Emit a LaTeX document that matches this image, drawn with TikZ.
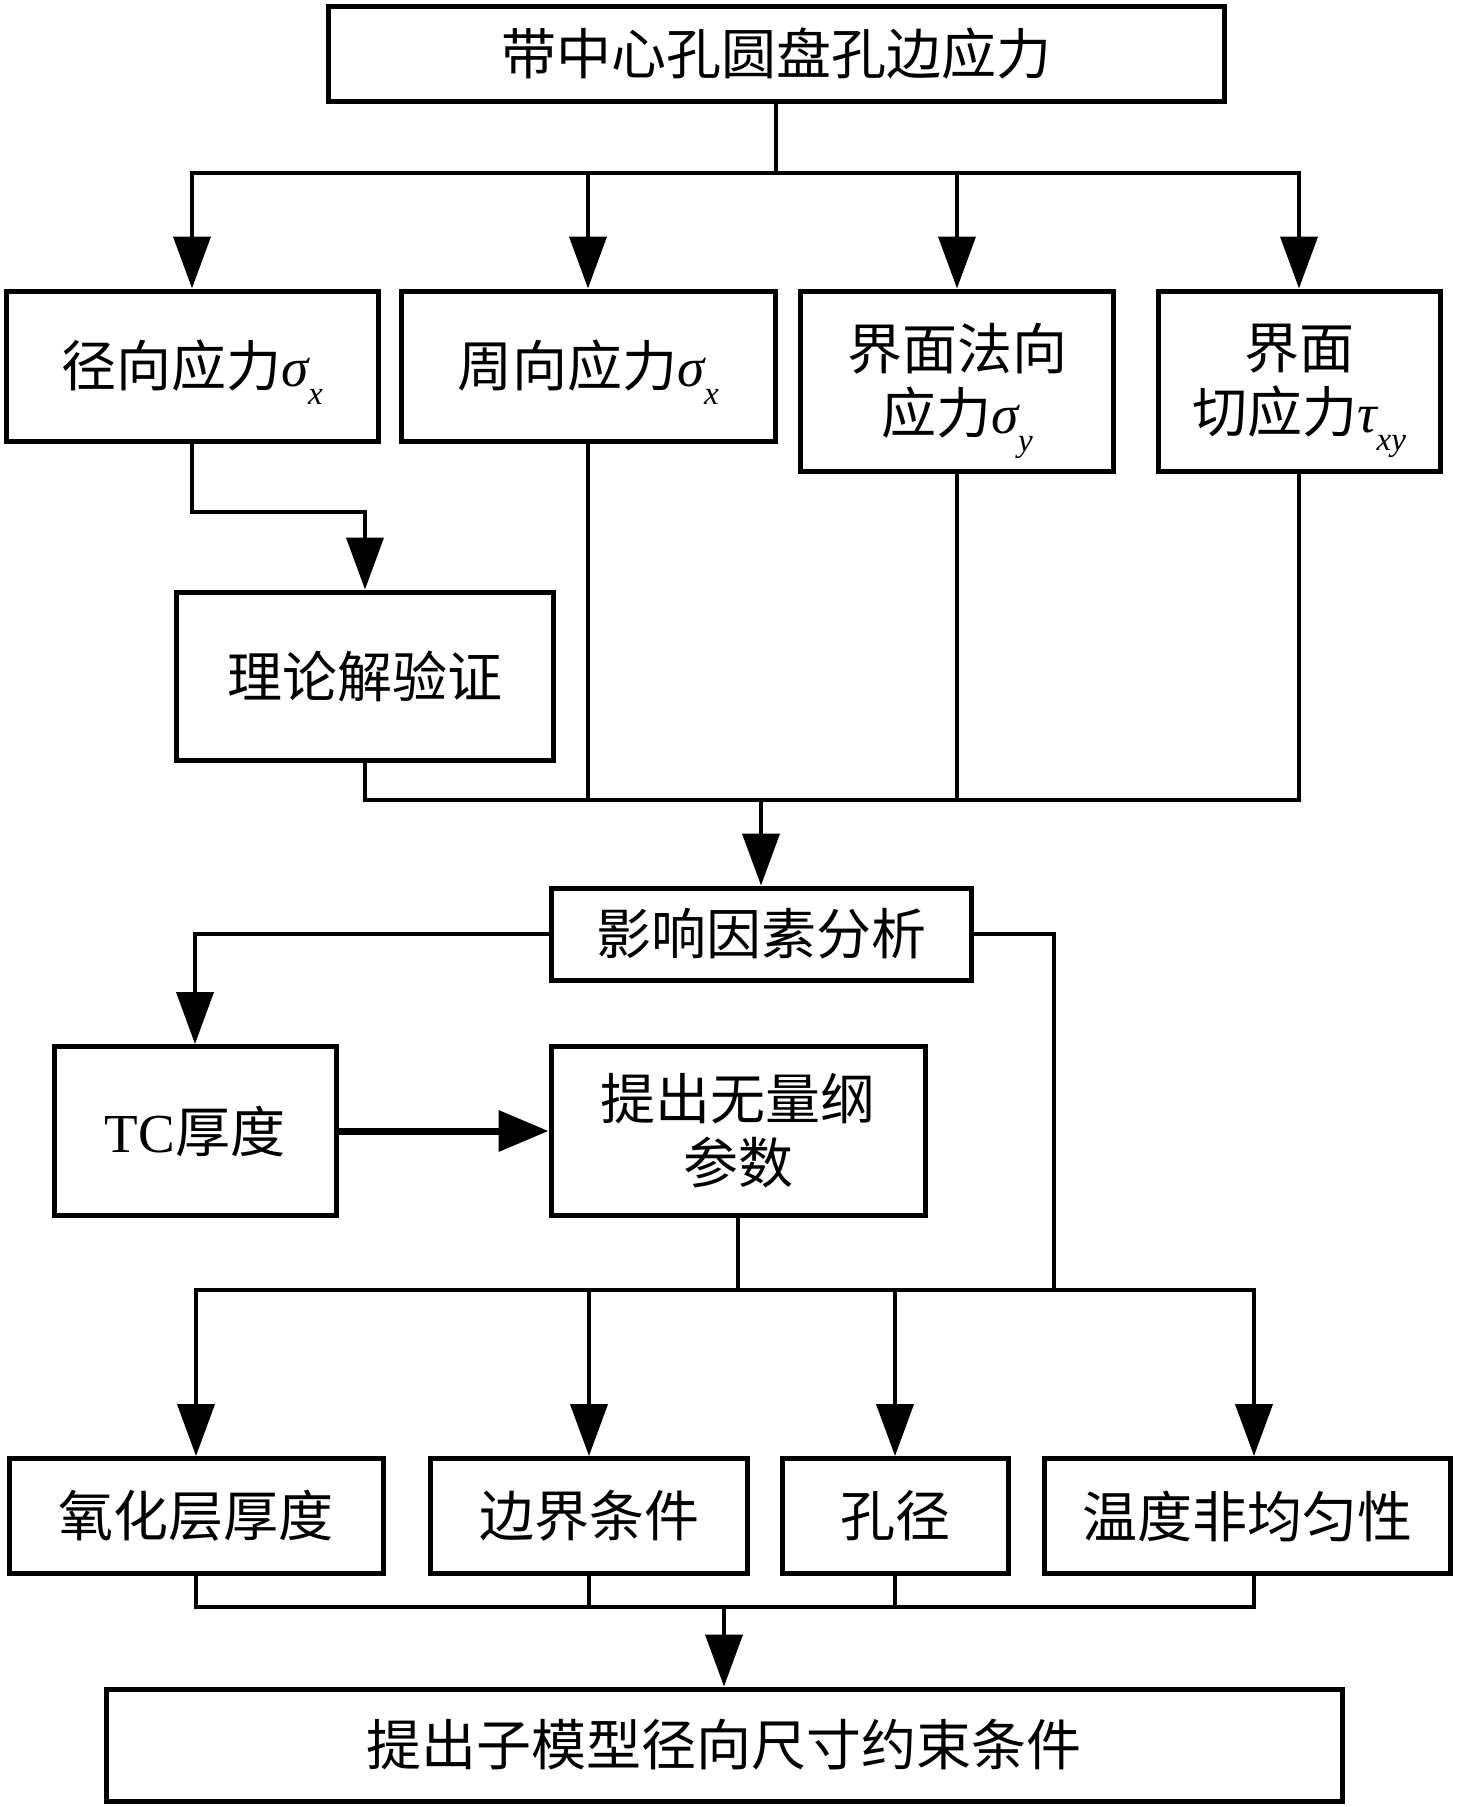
\documentclass[tikz,border=0pt]{standalone}
\usepackage{fontspec}
\usetikzlibrary{arrows.meta}
\newfontfamily\cjk{Noto Sans CJK SC}
\newfontfamily\tnr{Liberation Serif}
\newcommand\gsym[2]{{\tnr\itshape #1}\raisebox{-0.32em}[0pt][0pt]{\tnr\itshape\fontsize{33}{33}\selectfont #2}}
\begin{document}
\begin{tikzpicture}[x=1pt,y=-1pt,
  box/.style={draw=black, line width=5pt, fill=white, align=center, inner sep=0pt,
              font=\cjk\fontsize{55}{64}\selectfont},
  wire/.style={line width=4pt},
  arr/.style={wire, -{Triangle[length=52pt,width=37pt]}}]
\fill[white] (0,0) rectangle (1476,1807);
\useasboundingbox (0,0) rectangle (1476,1807);

\node[box, minimum width=896pt, minimum height=95pt] (top) at (776,54) {带中心孔圆盘孔边应力};

\node[box, minimum width=372pt, minimum height=150pt] (A) at (192,366) {径向应力\gsym{σ}{x}};
\node[box, minimum width=374pt, minimum height=150pt] (B) at (588,366) {周向应力\gsym{σ}{x}};
\node[box, minimum width=313pt, minimum height=180pt] (C) at (957,381) {界面法向\\应力\gsym{σ}{y}};
\node[box, minimum width=282pt, minimum height=180pt] (D) at (1299,381) {界面\\切应力\gsym{τ}{xy}};

\node[box, minimum width=377pt, minimum height=168pt] (L) at (365,676) {理论解验证};
\node[box, minimum width=420pt, minimum height=92pt] (M) at (761,934) {影响因素分析};

\node[box, minimum width=282pt, minimum height=169pt] (TC) at (195,1131) {{\tnr TC}厚度};
\node[box, minimum width=374pt, minimum height=169pt] (P) at (738,1131) {提出无量纲\\参数};

\node[box, minimum width=374pt, minimum height=115pt] (E) at (196,1516) {氧化层厚度};
\node[box, minimum width=317pt, minimum height=115pt] (F) at (589,1516) {边界条件};
\node[box, minimum width=226pt, minimum height=115pt] (G) at (895,1516) {孔径};
\node[box, minimum width=406pt, minimum height=115pt] (H) at (1247,1516) {温度非均匀性};

\node[box, minimum width=1236pt, minimum height=112pt] (Z) at (724,1745) {提出子模型径向尺寸约束条件};

% top fan-out
\coordinate (b1) at (776,173);
\draw[arr] (top.south) -- (b1) -| (A.north);
\draw[arr] (b1) -| (D.north);
\draw[arr] (B.north |- b1) -- (B.north);
\draw[arr] (C.north |- b1) -- (C.north);

% radial -> theory
\draw[arr] (A.south) -- ++(0,68) -| (L.north);

% merge into analysis
\coordinate (m1) at (761,800);
\draw[wire] (L.south) |- (m1) -| (D.south);
\draw[wire] (B.south) -- (B.south |- m1);
\draw[wire] (C.south) -- (C.south |- m1);
\draw[arr] (m1) -- (M.north);

% analysis branches
\draw[arr] (M.west) -| (TC.north);
\coordinate (m2) at (1054,1290);
\draw[wire] (M.east) -| (m2);
\draw[wire, line width=7pt, -{Triangle[length=50pt,width=40pt]}] (TC.east) -- (P.west);

% fan-out to factors
\draw[arr] (P.south) -- (P.south |- m2) -| (E.north);
\draw[arr] (P.south |- m2) -| ([xshift=7pt]H.north);
\draw[arr] (F.north |- m2) -- (F.north);
\draw[arr] (G.north |- m2) -- (G.north);

% merge into final
\coordinate (m3) at (724,1607);
\draw[wire] (E.south) |- (m3) -| ([xshift=7pt]H.south);
\draw[wire] (F.south) -- (F.south |- m3);
\draw[wire] (G.south) -- (G.south |- m3);
\draw[arr] (m3) -- (Z.north);
\end{tikzpicture}
\end{document}
